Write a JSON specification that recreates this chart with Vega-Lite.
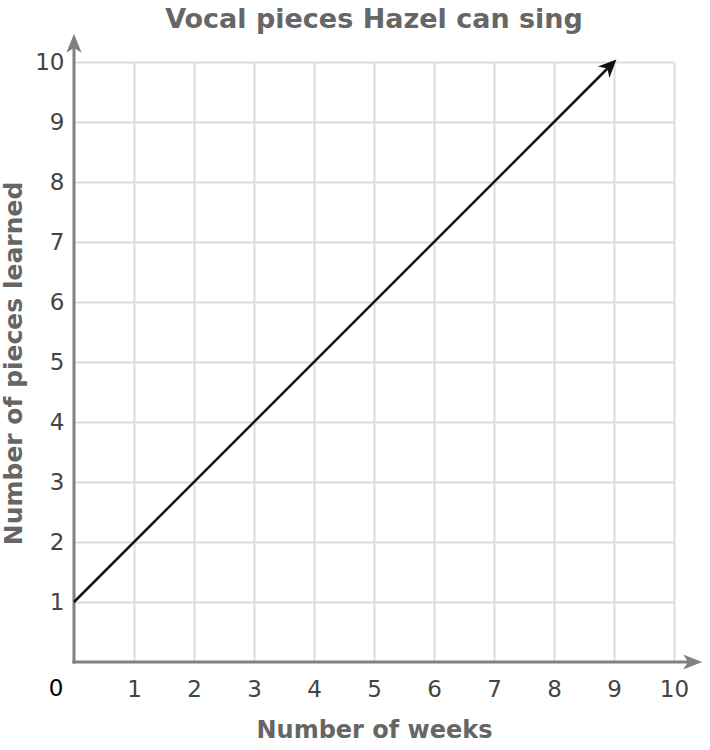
{
  "$schema": "https://vega.github.io/schema/vega-lite/v6.json",
  "autosize": {"type": "none"},
  "width": 600,
  "height": 600,
  "padding": {"left": 74, "top": 62, "right": 36, "bottom": 88},
  "background": "white",
  "title": {
    "text": "Vocal pieces Hazel can sing",
    "font": "DejaVu Sans",
    "fontSize": 27,
    "fontWeight": "bold",
    "color": "#666666",
    "anchor": "middle",
    "frame": "group",
    "offset": 0
  },
  "config": {
    "view": {"stroke": null},
    "font": "DejaVu Sans",
    "axis": {
      "domain": false,
      "ticks": false,
      "tickSize": 0,
      "grid": true,
      "gridColor": "#dcdcdc",
      "gridWidth": 2,
      "format": "d",
      "labelOverlap": false,
      "labelFlush": false,
      "labelFont": "DejaVu Sans",
      "labelFontSize": 23,
      "labelColor": "#444444",
      "titleFont": "DejaVu Sans",
      "titleFontWeight": "bold",
      "titleColor": "#666666"
    }
  },
  "layer": [
    {
      "data": {"values": [
        {"x": 0, "y": 0, "x2": 10.35, "y2": 0},
        {"x": 0, "y": 0, "x2": 0, "y2": 10.35}
      ]},
      "mark": {"type": "rule", "color": "#808080", "strokeWidth": 3, "strokeCap": "square"},
      "encoding": {
        "x": {
          "field": "x", "type": "quantitative",
          "scale": {"domain": [0, 10], "nice": false, "zero": false},
          "axis": {
            "values": [1, 2, 3, 4, 5, 6, 7, 8, 9, 10],
            "title": "Number of weeks",
            "titleFontSize": 24,
            "labelPadding": 16,
            "titleX": 300,
            "titleY": 68,
            "titleAlign": "center",
            "titleBaseline": "middle"
          }
        },
        "y": {
          "field": "y", "type": "quantitative",
          "scale": {"domain": [0, 10], "nice": false, "zero": false},
          "axis": {
            "values": [1, 2, 3, 4, 5, 6, 7, 8, 9, 10],
            "title": "Number of pieces learned",
            "titleFontSize": 25,
            "labelPadding": 10,
            "titleX": -61,
            "titleY": 301,
            "titleAngle": -90,
            "titleAlign": "center",
            "titleBaseline": "middle"
          }
        },
        "x2": {"field": "x2"},
        "y2": {"field": "y2"}
      }
    },
    {
      "data": {"values": [{"x": 10.47, "y": 0}]},
      "mark": {"type": "point", "shape": "M0,0L0.4,1L0,0.75L-0.4,1Z", "filled": true, "color": "#808080", "opacity": 1, "size": 1444, "angle": 90},
      "encoding": {
        "x": {"field": "x", "type": "quantitative"},
        "y": {"field": "y", "type": "quantitative"}
      }
    },
    {
      "data": {"values": [{"x": 0, "y": 10.47}]},
      "mark": {"type": "point", "shape": "M0,0L0.4,1L0,0.75L-0.4,1Z", "filled": true, "color": "#808080", "opacity": 1, "size": 1444, "angle": 0},
      "encoding": {
        "x": {"field": "x", "type": "quantitative"},
        "y": {"field": "y", "type": "quantitative"}
      }
    },
    {
      "data": {"values": [{"weeks": 0, "pieces": 1}, {"weeks": 9, "pieces": 10}]},
      "mark": {"type": "line", "color": "#111111", "strokeWidth": 2.5},
      "encoding": {
        "x": {"field": "weeks", "type": "quantitative"},
        "y": {"field": "pieces", "type": "quantitative"}
      }
    },
    {
      "data": {"values": [{"weeks": 9.04, "pieces": 10.04}]},
      "mark": {"type": "point", "shape": "M0,0L0.45,1L0,0.7L-0.45,1Z", "filled": true, "color": "#111111", "opacity": 1, "size": 1300, "angle": 45},
      "encoding": {
        "x": {"field": "weeks", "type": "quantitative"},
        "y": {"field": "pieces", "type": "quantitative"}
      }
    },
    {
      "data": {"values": [{"x": 0, "y": 0, "label": "0"}]},
      "mark": {"type": "text", "font": "DejaVu Sans", "fontSize": 23, "color": "#000000", "dx": -18, "dy": 27, "align": "center", "baseline": "middle"},
      "encoding": {
        "x": {"field": "x", "type": "quantitative"},
        "y": {"field": "y", "type": "quantitative"},
        "text": {"field": "label"}
      }
    }
  ]
}
